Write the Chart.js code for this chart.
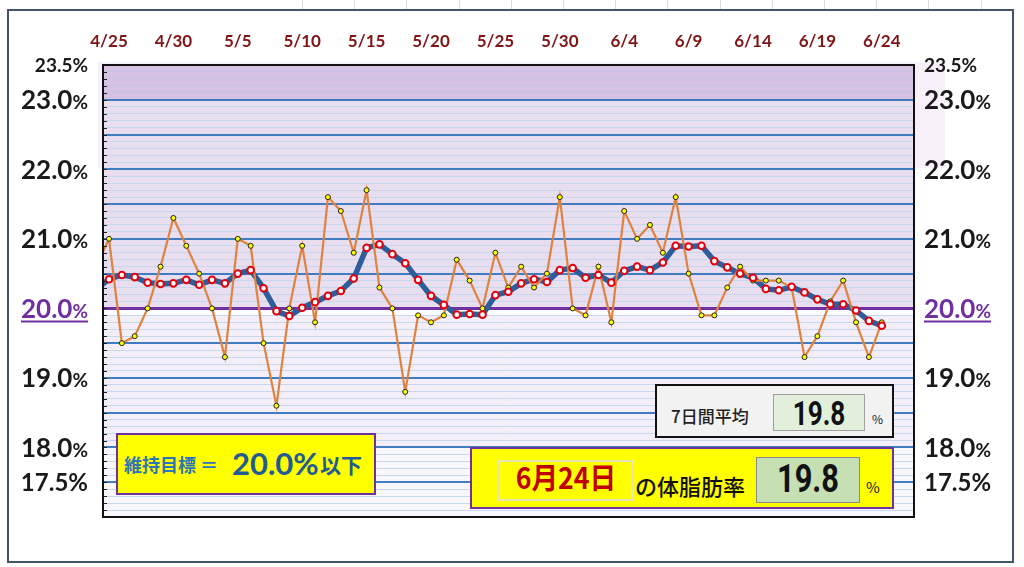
<!DOCTYPE html>
<html><head><meta charset="utf-8">
<script src="https://cdn.jsdelivr.net/npm/chart.js@4.4.1/dist/chart.umd.min.js"></script>
<style>
html,body{margin:0;padding:0;background:#fff;width:1024px;height:567px;overflow:hidden;}
#wrap{position:relative;width:1024px;height:567px;}
canvas{position:absolute;left:0;top:0;}
.box{position:absolute;box-sizing:border-box;}
.t{position:absolute;white-space:nowrap;line-height:1;}
.cjk{font-family:'Noto Sans CJK JP',sans-serif;}
.narrow{font-family:Roboto,'Liberation Sans',sans-serif;font-weight:bold;transform-origin:50% 50%;}
</style></head><body>
<div id="wrap">
<canvas id="c" width="1024" height="567"></canvas>

<div class="box" style="left:116px;top:433px;width:260px;height:62px;background:#ffff00;border:2px solid #7030a0;"></div>
<div class="t cjk" style="left:124px;top:455px;font-size:18px;font-weight:bold;color:#2e75b6;">維持目標 ＝</div>
<div class="t" style="left:232px;top:448px;font-family:Lato,sans-serif;font-size:31px;font-weight:bold;color:#1f5c93;">20.0%</div>
<div class="t cjk" style="left:320px;top:454px;font-size:21px;font-weight:bold;color:#1f5c93;">以下</div>

<div class="box" style="left:655px;top:384px;width:239px;height:54px;background:#f2f2f2;border:2px solid #111;"></div>
<div class="t cjk" style="left:671px;top:407px;font-size:17px;font-weight:500;color:#222;">7日間平均</div>
<div class="box" style="left:773px;top:394px;width:92px;height:37px;background:#e2efda;border:1px solid #a0a0a0;"></div>
<div class="t narrow" style="left:773px;width:92px;text-align:center;top:396px;font-size:34px;color:#111;transform:scaleX(0.77);">19.8</div>
<div class="t cjk" style="left:872px;top:413px;font-size:12px;color:#222;">%</div>

<div class="box" style="left:470px;top:447px;width:424px;height:62px;background:#ffff00;border:2px solid #7030a0;"></div>
<div class="box" style="left:498px;top:460px;width:136px;height:41px;background:#ffff00;border:2px solid #e4e4b4;"></div>
<div class="t cjk" style="left:498px;width:136px;text-align:center;top:462px;font-size:29px;font-weight:bold;color:#c00000;transform:scaleX(0.92);">6月24日</div>
<div class="t cjk" style="left:635px;top:474px;font-size:22px;font-weight:500;color:#111;">の体脂肪率</div>
<div class="box" style="left:756px;top:457px;width:104px;height:46px;background:#c6e0b4;border:1px solid #8a8a8a;"></div>
<div class="t narrow" style="left:756px;width:104px;text-align:center;top:460px;font-size:39px;color:#111;transform:scaleX(0.79);">19.8</div>
<div class="t cjk" style="left:866px;top:479px;font-size:15px;color:#222;">%</div>
</div>

<script>
// ---- data ----
const dates = ['4/24','4/25','4/26','4/27','4/28','4/29','4/30','5/1','5/2','5/3','5/4','5/5','5/6','5/7','5/8','5/9','5/10','5/11','5/12','5/13','5/14','5/15','5/16','5/17','5/18','5/19','5/20','5/21','5/22','5/23','5/24','5/25','5/26','5/27','5/28','5/29','5/30','5/31','6/1','6/2','6/3','6/4','6/5','6/6','6/7','6/8','6/9','6/10','6/11','6/12','6/13','6/14','6/15','6/16','6/17','6/18','6/19','6/20','6/21','6/22','6/23','6/24'];
const dailyFat = [20.6,
  21.0,19.5,19.6,20.0,20.6, 21.3,20.9,20.5,20.0,19.3,
  21.0,20.9,19.5,18.6,20.0, 20.9,19.8,21.6,21.4,20.8,
  21.7,20.3,20.0,18.8,19.9, 19.8,19.9,20.7,20.4,20.0,
  20.8,20.3,20.6,20.3,20.5, 21.6,20.0,19.9,20.6,19.8,
  21.4,21.0,21.2,20.8,21.6, 20.5,19.9,19.9,20.3,20.6,
  20.4,20.4,20.4,20.3,19.3, 19.6,20.1,20.4,19.8,19.3,
  19.8];
const avg7 = [20.27,
  20.42,20.48,20.45,20.37,20.35, 20.36,20.41,20.34,20.41,20.36,
  20.50,20.55,20.29,19.96,19.89, 20.01,20.09,20.18,20.25,20.43,
  20.87,20.92,20.78,20.65,20.41, 20.18,20.05,19.91,19.92,19.91,
  20.19,20.24,20.36,20.42,20.38, 20.55,20.58,20.44,20.48,20.37,
  20.54,20.60,20.55,20.66,20.90, 20.89,20.90,20.68,20.59,20.50,
  20.44,20.28,20.26,20.31,20.23, 20.13,20.06,20.06,19.97,19.82,
  19.75];
const xTickLabels = ['4/25','4/30','5/5','5/10','5/15','5/20','5/25','5/30','6/4','6/9','6/14','6/19','6/24'];
const yTickValues = [23.5,23.0,22.0,21.0,20.0,19.0,18.0,17.5];
const yTickTexts  = ['23.5','23.0','22.0','21.0','20.0','19.0','18.0','17.5'];

// ---- styling ----
const bands = [
  {from:23.0,to:23.5,color:'#d6c2e3'},
  {from:20.0,to:23.0,color:'#e8deef'},
  {from:19.9,to:20.0,color:'#fdfcfe'},
  {from:18.0,to:19.9,color:'#f3eef7'},
  {from:17.0,to:18.0,color:'#f8f8fc'}
];

const pts = arr => arr.map((v,i)=>({x:i,y:v}));

const decor = {
  id:'decor',
  beforeDraw(chart){
    const {ctx, chartArea:a, scales:{y}} = chart;
    ctx.save();
    ctx.fillStyle='#fff'; ctx.fillRect(0,0,chart.width,chart.height);
    ctx.strokeStyle='#dcdcdc'; ctx.lineWidth=1;
    for(let x=302;x<1000;x+=52.2){ctx.beginPath();ctx.moveTo(Math.round(x)+0.5,0);ctx.lineTo(Math.round(x)+0.5,10);ctx.stroke();}
    ctx.fillStyle='#f6f1f8'; ctx.fillRect(98,62,847,106);
    bands.forEach(b=>{
      const y1=y.getPixelForValue(b.to), y2=y.getPixelForValue(b.from);
      ctx.fillStyle=b.color; ctx.fillRect(a.left,y1,a.right-a.left,y2-y1);
    });
    ctx.strokeStyle='#44546a'; ctx.lineWidth=2;
    ctx.strokeRect(8,10,1005,552);
    ctx.restore();
  },
  afterDraw(chart){
    const {ctx, chartArea:a, scales:{x,y}} = chart;
    ctx.save();
    ctx.strokeStyle='#222'; ctx.lineWidth=1;
    for(let k=171;k<235;k++){
      const py=Math.round(y.getPixelForValue(k/10))+0.5;
      ctx.beginPath();ctx.moveTo(a.left,py);ctx.lineTo(a.left+4,py);ctx.stroke();
    }
    ctx.strokeStyle='#111'; ctx.lineWidth=2;
    ctx.strokeRect(a.left,a.top,a.right-a.left,a.bottom-a.top);
    ctx.fillStyle='#7f1414'; ctx.font='bold 17px Lato, sans-serif';
    ctx.textAlign='center'; ctx.textBaseline='middle';
    xTickLabels.forEach(l=>{
      const px=x.getPixelForValue(dates.indexOf(l));
      ctx.fillText(l,px,42);
    });
    ctx.textAlign='left'; ctx.textBaseline='alphabetic';
    yTickValues.forEach((v,i)=>{
      const py=y.getPixelForValue(v);
      let ns=26, ps=19;
      if(v===23.5){ns=19;ps=19;}
      if(v===17.5){ns=24;ps=24;}
      const col = v===20.0 ? '#7030a0' : '#1a1a1a';
      const numF='bold '+ns+'px Lato, sans-serif', pctF='bold '+ps+'px Lato, sans-serif';
      ctx.font=numF; const w1=ctx.measureText(yTickTexts[i]).width;
      ctx.font=pctF; const w2=ctx.measureText('%').width;
      const base=py+ns*0.36;
      [88-(w1+w2), 924].forEach(sx=>{
        ctx.fillStyle=col;
        ctx.font=numF; ctx.fillText(yTickTexts[i],sx,base);
        ctx.font=pctF; ctx.fillText('%',sx+w1,base);
        if(v===20.0){
          ctx.strokeStyle=col; ctx.lineWidth=2;
          ctx.beginPath();ctx.moveTo(sx,py+13);ctx.lineTo(sx+w1+w2,py+13);ctx.stroke();
        }
      });
    });
    ctx.restore();
  }
};

new Chart(document.getElementById('c'),{
  type:'line',
  data:{datasets:[
    {label:'7日間平均', data:pts(avg7), borderColor:'#2e5d9a', borderWidth:5.5, pointRadius:0, order:3, clip:0, tension:0},
    {label:'体脂肪率', data:pts(dailyFat), borderColor:'#e0823f', borderWidth:2.2,
     pointRadius:2.5, pointBackgroundColor:'#ffff00', pointBorderColor:'#222', pointBorderWidth:1, order:2, clip:0, tension:0},
    {label:'7日間平均点', data:pts(avg7), showLine:false, pointRadius:3.3, pointBorderWidth:2,
     pointBackgroundColor:'#ffffff', pointBorderColor:'#e6000b', order:1, clip:0}
  ]},
  options:{
    responsive:false, animation:false, devicePixelRatio:1,
    layout:{autoPadding:false, padding:{left:103,right:110,top:65,bottom:50}},
    plugins:{legend:{display:false}, tooltip:{enabled:false}},
    scales:{
      x:{type:'linear', display:false, min:0.534, max:63.5},
      y:{type:'linear', display:true, min:17, max:23.5,
         border:{display:false},
         ticks:{display:false, stepSize:0.1},
         grid:{drawTicks:false,
           color:c=>{const v=Math.round(c.tick.value*10); if(v===200) return '#7030a0'; if(v%5===0) return '#3f7cc2'; return v>230?'#c5c3e4':'#c6d8ee';},
           lineWidth:c=>{const v=Math.round(c.tick.value*10); if(v===200) return 3; if(v%5===0) return 2; return 1;}
         }}
    }
  },
  plugins:[decor]
});
</script>
</body></html>
